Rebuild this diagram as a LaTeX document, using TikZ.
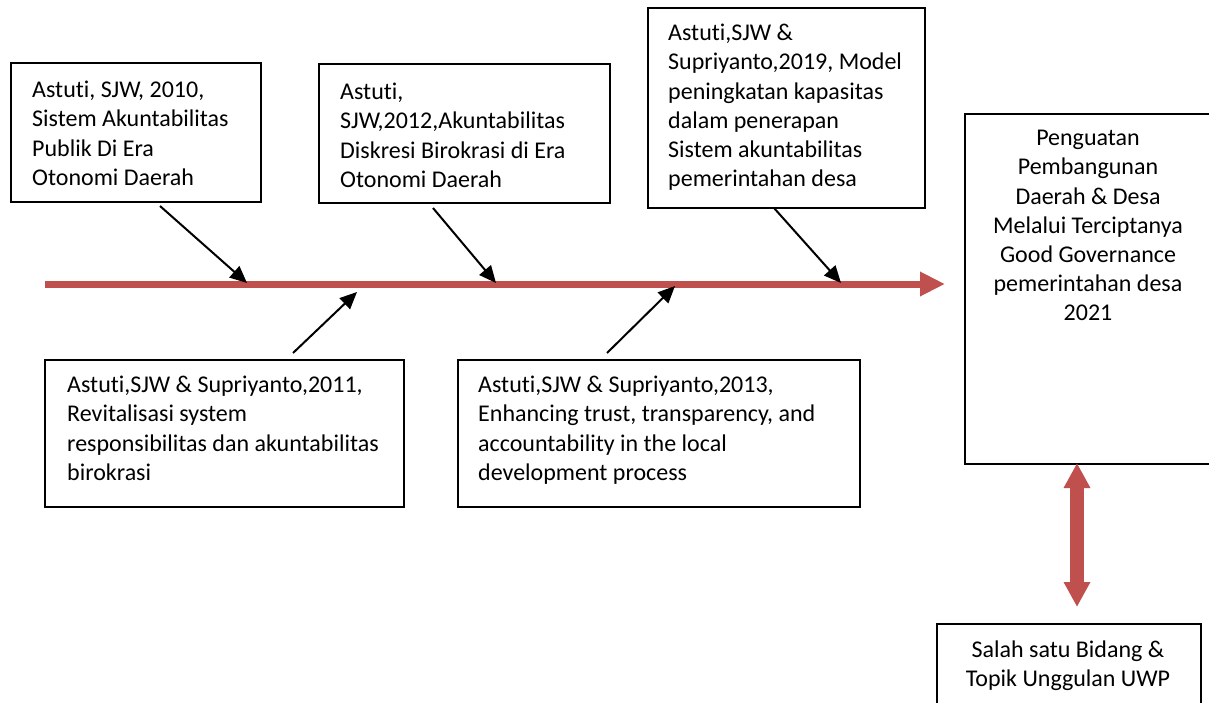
\documentclass[tikz,border=0pt]{standalone}
\usepackage{fontspec}
\setmainfont{Carlito}[Ligatures={NoCommon}]
\usetikzlibrary{arrows.meta}
\definecolor{accred}{HTML}{C0504D}
\begin{document}
\begin{tikzpicture}[x=1pt,y=-1pt,
  box/.style={draw=black, line width=1.5pt, inner sep=0pt, anchor=north west, rectangle},
  txt/.style={inner sep=0pt, align=left, anchor=north west, font=\fontsize{24}{29.2}\selectfont},
  ctxt/.style={inner sep=0pt, align=center, anchor=north, font=\fontsize{24}{29.2}\selectfont},
  ptr/.style={line width=2pt, -{Triangle[length=17pt,width=15pt]}},
  spine/.style={draw=accred, line width=7pt, -{Triangle[length=25pt,width=23pt]}},
  twoway/.style={draw=accred, line width=14pt, {Triangle[length=25pt,width=25pt]}-{Triangle[length=25pt,width=25pt]}},
]
\useasboundingbox (0,0) rectangle (1209,702);
\fill[white] (0,0) rectangle (1209,702);

% boxes
\node[box, minimum width=250pt, minimum height=139pt] (b1) at (10,62) {};
\node[box, minimum width=291pt, minimum height=139pt] (b2) at (318,63) {};
\node[box, minimum width=277pt, minimum height=200pt] (b3) at (647,7) {};
\node[box, minimum width=246pt, minimum height=350pt] (big) at (964,113) {};
\node[box, minimum width=359pt, minimum height=147pt] (b4) at (44,359) {};
\node[box, minimum width=402pt, minimum height=147pt] (b5) at (457,359) {};
\node[box, minimum width=264pt, minimum height=90pt] (small) at (936,623) {};

% texts
\node[txt] (t1) at (32,77) {\strut Astuti, SJW, 2010,\\Sistem Akuntabilitas\\Publik Di Era\\Otonomi Daerah};
\node[txt] (t2) at (340,79) {\strut Astuti,\\SJW,2012,Akuntabilitas\\Diskresi Birokrasi di Era\\Otonomi Daerah};
\node[txt] (t3) at (668,20) {\strut Astuti,SJW \&\\Supriyanto,2019, Model\\peningkatan kapasitas\\dalam penerapan\\Sistem akuntabilitas\\pemerintahan desa};
\node[txt] (t4) at (67,372) {\strut Astuti,SJW \& Supriyanto,2011,\\Revitalisasi system\\responsibilitas dan akuntabilitas\\birokrasi};
\node[txt] (t5) at (478,372) {\strut Astuti,SJW \& Supriyanto,2013,\\Enhancing trust, transparency, and\\accountability in the local\\development process};
\node[ctxt] (tbig) at (1088,125) {\strut Penguatan\\Pembangunan\\Daerah \& Desa\\Melalui Terciptanya\\Good Governance\\pemerintahan desa\\2021};
\node[ctxt] (tsmall) at (1068,637) {\strut Salah satu Bidang \&\\Topik Unggulan UWP};

% spine
\coordinate (s0) at (45,284);
\coordinate (s1) at (945,284);
\draw[spine] (s0) -- (s1);

% double arrow
\coordinate (d0) at (1077,463);
\coordinate (d1) at (1077,607);
\draw[twoway] (d0) -- (d1);

% pointers
\coordinate (a1s) at (160,206); \coordinate (a1e) at (247,283);
\coordinate (a2s) at (293,353); \coordinate (a2e) at (357,292);
\coordinate (a3s) at (433,208); \coordinate (a3e) at (496,283);
\coordinate (a4s) at (607,353); \coordinate (a4e) at (675,286);
\coordinate (a5s) at (774,208); \coordinate (a5e) at (841,283);
\draw[ptr] (a1s) -- (a1e);
\draw[ptr] (a2s) -- (a2e);
\draw[ptr] (a3s) -- (a3e);
\draw[ptr] (a4s) -- (a4e);
\draw[ptr] (a5s) -- (a5e);
\end{tikzpicture}
\end{document}
